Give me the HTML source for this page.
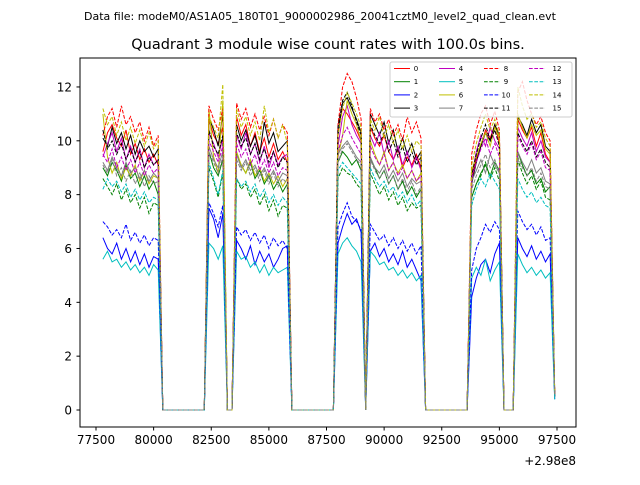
<!DOCTYPE html>
<html><head><meta charset="utf-8"><style>
body{margin:0;background:#fff;font-family:"Liberation Sans","DejaVu Sans",sans-serif}
svg text{font-family:"DejaVu Sans","Liberation Sans",sans-serif}
</style></head><body>
<svg id="chart" width="640" height="480" viewBox="0 0 640 480" xmlns="http://www.w3.org/2000/svg">
<rect width="640" height="480" fill="#fff"/>
<text x="320" y="20" font-size="11" text-anchor="middle">Data file: modeM0/AS1A05_180T01_9000002986_20041cztM0_level2_quad_clean.evt</text>
<text x="328" y="49" font-size="14.5" text-anchor="middle">Quadrant 3 module wise count rates with 100.0s bins.</text>
<g id="plot"></g>
<rect x="80" y="58" width="496" height="369" fill="none" stroke="#000" stroke-width="1"/>
<g id="axes"></g>
<text x="576" y="465" font-size="12" text-anchor="end">+2.98e8</text>
<g id="legend"></g>
</svg>
<script>
const Z10=[0,0,0,0,0,0,0,0,0,0];
const t0=77800, dt=200;
const xTicks=[77500,80000,82500,85000,87500,90000,92500,95000,97500];
const yTicks=[0,2,4,6,8,10,12];
const seriesNames=["0","1","2","3","4","5","6","7","8","9","10","11","12","13","14","15"];
const s0=[9.6,10.3,10.6,10.1,9.8,10.4,9.5,9.9,9.3,9.7,9.2,9.5,9.1,...Z10,10.8,10.2,9.9,10.5,0,0,10.9,10.2,10.6,9.8,10.3,9.6,10.1,9.4,9.9,9.3,9.6,9.2,...Z10,10.6,11.2,11.0,10.7,10.4,10.0,0,10.5,10.1,9.8,10.2,9.6,9.3,9.7,9.0,9.4,9.1,9.5,9.0,...Z10,8.6,9.3,9.8,10.4,10.1,10.6,9.9,0,0,0,10.8,10.4,10.1,10.5,9.8,10.3,9.5,9.2,0.6];
const s1=[9.0,8.7,9.2,8.9,8.5,9.1,8.6,8.8,8.3,8.7,8.2,8.5,8.0,...Z10,9.6,9.0,8.7,9.3,0,0,9.5,9.1,8.8,9.2,8.6,8.9,8.4,8.7,8.2,8.5,8.1,8.4,...Z10,9.2,9.6,9.4,9.1,9.3,8.9,0,9.3,9.0,8.6,8.9,8.4,8.7,8.2,8.5,8.0,8.3,7.9,8.2,...Z10,7.9,8.4,8.8,9.1,8.7,9.2,8.9,0,0,0,9.6,9.1,8.7,8.9,8.4,8.6,8.1,8.3,0.5];
const s2=[6.4,6.0,5.8,6.2,5.6,6.0,5.5,5.9,5.4,5.8,5.3,5.7,5.6,...Z10,7.5,7.1,6.4,7.3,0,0,6.3,6.0,5.6,6.1,5.4,5.9,5.5,5.8,5.3,5.6,6.0,6.1,...Z10,6.2,6.8,7.3,6.9,7.1,6.6,0,5.9,6.2,5.7,6.0,5.5,5.8,5.4,5.9,5.3,5.6,5.2,4.8,...Z10,4.2,4.9,5.4,5.6,5.1,5.8,6.2,0,0,0,6.4,6.0,5.7,6.1,5.6,5.9,5.5,5.8,0.4];
const s3=[10.1,9.8,10.5,9.9,10.3,9.7,10.2,9.5,10.0,9.6,9.8,9.4,9.7,...Z10,10.9,10.4,9.8,11.0,0,0,10.6,10.0,10.4,9.8,10.2,9.5,10.7,9.9,10.3,9.6,9.8,10.0,...Z10,10.2,11.4,11.6,11.2,10.8,10.3,0,11.0,10.6,10.2,10.7,9.9,10.4,9.6,10.1,9.5,9.9,9.3,9.6,...Z10,8.4,9.2,9.8,10.3,10.0,10.6,10.2,0,0,0,10.9,10.6,10.2,10.8,10.3,10.6,9.8,9.6,0.6];
const s4=[9.4,9.9,10.3,9.6,10.1,9.3,9.8,9.2,9.7,9.0,9.5,9.1,9.3,...Z10,10.3,9.9,9.4,10.1,0,0,10.2,9.7,10.3,9.5,9.9,9.2,9.8,9.0,9.6,9.1,9.4,9.5,...Z10,9.8,10.9,11.3,10.6,10.2,9.9,0,10.2,9.8,10.3,9.5,10.0,9.3,9.8,9.1,9.6,9.0,9.4,8.9,...Z10,8.7,9.6,10.2,9.8,10.5,10.0,9.7,0,0,0,10.5,10.1,9.8,10.3,9.6,10.0,9.4,9.2,0.5];
const s5=[5.6,5.9,5.5,5.6,5.3,5.5,5.2,5.4,5.1,5.3,5.0,5.4,5.2,...Z10,6.2,6.0,5.6,6.1,0,0,5.9,5.6,5.7,5.3,5.5,5.1,5.4,5.0,5.3,5.1,5.2,5.3,...Z10,5.8,6.2,6.4,6.1,5.9,5.5,0,5.9,5.7,5.4,5.5,5.2,5.3,5.0,5.2,4.9,5.1,4.8,5.0,...Z10,4.9,5.3,5.0,5.6,4.8,5.2,5.5,0,0,0,5.8,5.4,5.1,5.3,5.0,5.2,4.9,5.1,0.4];
const s6=[11.0,9.4,8.8,9.2,8.6,9.0,8.7,9.1,8.5,8.9,8.4,8.7,8.6,...Z10,11.2,9.4,8.8,11.5,0,0,9.6,9.1,8.8,9.3,8.7,9.0,8.5,8.8,8.4,8.7,8.3,8.6,...Z10,9.4,10.2,11.5,11.0,10.6,10.0,0,10.0,9.5,9.1,9.6,8.9,9.2,8.8,9.1,8.6,8.9,8.5,8.8,...Z10,8.9,9.4,9.9,10.3,9.8,10.5,10.1,0,0,0,11.0,10.5,10.1,10.6,10.2,10.4,9.7,9.5,0.6];
const s7=[9.2,8.9,9.4,9.0,8.7,9.2,8.8,9.0,8.6,8.9,8.5,8.8,8.6,...Z10,9.8,9.3,9.0,9.6,0,0,9.5,9.0,9.3,8.9,9.1,8.7,9.0,8.6,8.9,8.5,8.8,8.7,...Z10,9.5,9.8,10.0,9.7,9.4,9.2,0,9.4,9.0,8.8,9.1,8.6,8.9,8.5,8.8,8.3,8.6,8.4,8.5,...Z10,8.5,8.9,9.3,8.8,9.5,9.1,8.8,0,0,0,9.6,9.2,8.9,9.3,8.8,9.0,8.5,8.4,0.5];
const s8=[10.2,10.9,11.2,10.5,11.3,10.6,10.9,10.3,10.7,10.0,10.5,9.8,10.2,...Z10,11.3,10.8,10.4,11.2,0,0,11.4,10.8,11.2,10.5,11.0,10.4,10.9,10.2,10.8,10.1,10.6,10.3,...Z10,10.6,12.0,12.5,12.2,11.6,10.8,0,11.2,10.7,11.0,10.4,10.8,10.2,10.6,10.0,10.9,10.3,10.7,10.1,...Z10,9.5,10.4,11.0,11.3,10.6,11.1,10.4,0,0,0,11.8,12.2,11.5,11.0,10.6,10.9,10.3,10.0,0.6];
const s9=[8.6,8.3,8.0,8.4,7.8,8.2,7.7,8.0,7.5,7.9,7.3,7.7,7.6,...Z10,9.0,8.5,7.9,8.8,0,0,8.6,8.2,8.4,7.9,8.2,7.6,8.0,7.4,7.8,7.2,7.6,7.5,...Z10,8.6,9.0,8.8,8.7,8.4,8.2,0,8.8,8.4,8.0,8.3,7.8,8.1,7.6,7.9,7.4,7.7,7.5,7.6,...Z10,7.9,8.4,8.7,9.2,8.6,9.0,8.5,0,0,0,9.3,8.8,8.4,8.7,8.2,8.5,7.9,7.8,0.5];
const s10=[7.0,6.8,6.5,6.7,6.4,6.9,6.3,6.6,6.2,6.5,6.1,6.4,6.3,...Z10,7.7,7.3,6.8,7.6,0,0,6.8,6.5,6.7,6.3,6.6,6.2,6.5,6.0,6.4,6.1,6.3,6.0,...Z10,6.8,7.3,7.7,7.2,7.0,6.7,0,6.9,6.6,6.3,6.5,6.1,6.4,6.0,6.3,5.9,6.2,5.8,6.1,...Z10,5.2,6.0,6.4,6.9,6.6,7.0,6.7,0,0,0,7.4,7.0,6.7,6.9,6.5,6.8,6.3,6.4,0.5];
const s11=[10.4,9.7,10.0,9.5,9.9,9.3,9.7,9.2,9.6,9.0,9.4,9.1,9.3,...Z10,10.4,9.8,9.5,10.2,0,0,10.3,9.8,10.1,9.5,9.9,9.3,9.7,9.2,9.6,9.0,9.4,9.2,...Z10,10.5,11.5,11.8,11.3,10.7,10.2,0,10.6,10.2,9.9,10.3,9.6,10.0,9.4,9.8,9.2,9.6,9.1,9.4,...Z10,8.7,9.5,10.1,10.6,10.0,10.4,9.8,0,0,0,10.3,9.9,9.6,10.0,9.4,9.7,9.2,9.0,0.5];
const s12=[9.5,9.2,9.7,9.0,9.4,8.9,9.3,8.8,9.2,8.7,9.1,8.8,9.0,...Z10,10.0,9.6,9.2,9.8,0,0,9.9,9.4,9.7,9.1,9.5,8.9,9.3,8.8,9.2,8.7,9.0,8.9,...Z10,9.6,10.2,10.5,10.1,9.8,9.5,0,9.8,9.4,9.1,9.5,8.9,9.2,8.7,9.0,8.6,8.9,8.5,8.7,...Z10,8.6,9.2,9.7,10.1,9.5,9.9,9.4,0,0,0,10.2,9.8,9.5,9.9,9.3,9.6,9.0,8.9,0.5];
const s13=[8.2,8.6,8.3,8.5,8.1,8.4,7.9,8.2,7.8,8.1,7.7,7.9,7.8,...Z10,9.2,8.6,8.0,8.9,0,0,8.6,8.3,8.5,8.1,8.4,7.9,8.2,7.7,8.0,7.6,7.9,7.7,...Z10,8.9,9.2,9.0,8.8,8.6,8.4,0,9.0,8.6,8.3,8.5,8.1,8.3,7.9,8.1,7.7,8.0,7.6,7.8,...Z10,7.6,8.2,8.6,8.3,8.8,8.5,8.2,0,0,0,8.6,8.2,7.9,8.1,7.7,7.9,7.6,7.5,0.4];
const s14=[11.2,10.6,10.9,10.2,10.7,10.0,10.5,9.9,10.4,9.8,10.3,9.7,10.0,...Z10,10.9,10.5,10.1,12.1,0,0,11.2,10.5,10.9,10.2,10.7,10.0,11.3,10.3,10.8,10.1,10.6,9.9,...Z10,10.2,11.2,11.8,11.4,11.0,10.5,0,10.8,10.4,10.9,10.1,10.6,9.9,10.4,9.7,10.2,9.6,10.0,9.8,...Z10,9.1,9.9,10.5,11.0,10.4,10.8,10.2,0,0,0,12.0,11.3,10.8,11.0,10.5,10.7,10.1,9.8,0.6];
const s15=[9.1,8.8,9.3,8.7,9.0,8.5,8.9,8.4,8.8,8.3,8.7,8.4,8.5,...Z10,9.6,9.2,8.8,9.4,0,0,9.3,8.9,9.2,8.7,9.0,8.5,8.9,8.4,8.8,8.3,8.6,8.4,...Z10,9.2,9.7,9.9,9.6,9.3,9.1,0,9.3,8.9,8.6,8.9,8.4,8.7,8.2,8.6,8.1,8.5,8.0,8.3,...Z10,8.2,8.7,9.1,9.5,9.0,9.3,8.8,0,0,0,9.4,9.0,8.7,9.0,8.5,8.8,8.3,8.2,0.5];
const series=[s0,s1,s2,s3,s4,s5,s6,s7,s8,s9,s10,s11,s12,s13,s14,s15];
const colors=["#ff0000","#008000","#0000ff","#000000","#bf00bf","#00bfbf","#bfbf00","#808080"];
const NS="http://www.w3.org/2000/svg";
const sx=t=>96+(t-77500)*461/20000;
const sy=v=>410-v*26.92;
const plot=document.getElementById('plot');
series.forEach((d,i)=>{
  const pts=d.map((v,k)=>sx(t0+k*dt).toFixed(1)+","+sy(v).toFixed(1)).join(" ");
  const pl=document.createElementNS(NS,'polyline');
  
  
  pl.setAttribute('points',pts);
  pl.setAttribute('fill','none');
  pl.setAttribute('stroke',colors[i%8]);
  pl.setAttribute('stroke-width','1');
  if(i>=8)pl.setAttribute('stroke-dasharray','3.7,1.6');
  plot.appendChild(pl);
});
const axes=document.getElementById('axes');
xTicks.forEach(v=>{
  const x=sx(v);
  const l=document.createElementNS(NS,'line');
  
  
  l.setAttribute('x1',x);l.setAttribute('x2',x);l.setAttribute('y1',427);l.setAttribute('y2',430.5);
  l.setAttribute('stroke','#000');axes.appendChild(l);
  const t=document.createElementNS(NS,'text');
  
  
  t.setAttribute('x',x);t.setAttribute('y',444);t.setAttribute('font-size','12');t.setAttribute('text-anchor','middle');
  t.textContent=v;axes.appendChild(t);
});
yTicks.forEach(v=>{
  const y=sy(v);
  const l=document.createElementNS(NS,'line');
  
  
  l.setAttribute('x1',76.5);l.setAttribute('x2',80);l.setAttribute('y1',y);l.setAttribute('y2',y);
  l.setAttribute('stroke','#000');axes.appendChild(l);
  const t=document.createElementNS(NS,'text');
  
  
  t.setAttribute('x',72);t.setAttribute('y',y+4.5);t.setAttribute('font-size','12');t.setAttribute('text-anchor','end');
  t.textContent=v;axes.appendChild(t);
});
const leg=document.getElementById('legend');
const bg=document.createElementNS(NS,'rect');


bg.setAttribute('x',390);bg.setAttribute('y',62);bg.setAttribute('width',182);bg.setAttribute('height',55);bg.setAttribute('rx',2);
bg.setAttribute('fill','#fff');bg.setAttribute('fill-opacity','0.8');bg.setAttribute('stroke','#ccc');leg.appendChild(bg);
seriesNames.forEach((n,i)=>{
  const col=Math.floor(i/4),row=i%4;
  const x=394+col*45,y=68.5+row*13.2;
  const l=document.createElementNS(NS,'line');
  
  
  l.setAttribute('x1',x);l.setAttribute('x2',x+16);l.setAttribute('y1',y);l.setAttribute('y2',y);
  l.setAttribute('stroke',colors[i%8]);l.setAttribute('stroke-width','1');
  if(i>=8)l.setAttribute('stroke-dasharray','3.7,1.6');
  leg.appendChild(l);
  const t=document.createElementNS(NS,'text');
  
  
  t.setAttribute('x',x+(i>=12?28:22));t.setAttribute('y',y+2.5);t.setAttribute('font-size','7');t.setAttribute('text-anchor','middle');
  t.textContent=n;leg.appendChild(t);
});
</script>
</body></html>
